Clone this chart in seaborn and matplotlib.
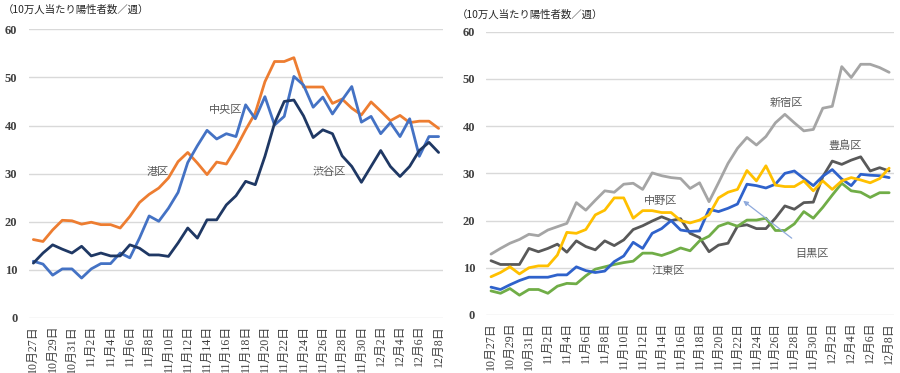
import pandas as pd
import seaborn as sns
import matplotlib.pyplot as plt

# 10/27 - 12/8, daily
dates = pd.date_range('2020-10-27', '2020-12-08')
dateLabels = [f'{d.month}月{d.day}日' for d in dates]

# left panel
minato = [16.3, 15.9, 18.3, 20.3, 20.2, 19.5, 19.9, 19.4, 19.4, 18.7,
          21.1, 24.0, 25.7, 27.0, 29.1, 32.5, 34.4, 32.2, 29.8, 32.4,
          32.0, 35.3, 39.1, 42.6, 49.1, 53.3, 53.3, 54.1, 48.0, 48.0,
          48.0, 44.6, 45.5, 43.6, 42.2, 44.9, 43.0, 41.0, 42.1, 40.6,
          40.9, 40.9, 39.4]
chuo = [11.8, 11.2, 8.9, 10.2, 10.2, 8.3, 10.2, 11.3, 11.3, 13.5,
        12.5, 16.6, 21.2, 20.1, 22.8, 26.1, 32.3, 35.8, 39.0, 37.2,
        38.3, 37.7, 44.3, 41.4, 46.0, 40.1, 41.9, 50.2, 48.4, 43.8,
        45.9, 42.4, 45.3, 48.1, 40.7, 41.9, 38.3, 40.6, 37.7, 41.4,
        33.6, 37.7, 37.7]
shibuya = [11.4, 13.5, 15.2, 14.3, 13.5, 14.9, 12.9, 13.5, 12.9, 12.9,
           15.2, 14.5, 13.1, 13.1, 12.8, 15.6, 18.7, 16.6, 20.4, 20.4,
           23.5, 25.4, 28.4, 27.7, 33.6, 40.5, 45.0, 45.3, 42.0, 37.5,
           39.1, 38.3, 33.7, 31.5, 28.2, 31.5, 34.8, 31.5, 29.4, 31.5,
           34.8, 36.5, 34.4]

# right panel
shinjuku = [12.9, 14.1, 15.2, 16.0, 17.1, 16.8, 18.0, 18.7, 19.4, 23.8,
            22.2, 24.3, 26.3, 26.0, 27.7, 27.9, 26.6, 30.1, 29.5, 29.1,
            28.9, 26.8, 28.0, 24.0, 28.0, 32.1, 35.3, 37.6, 36.0, 37.8,
            40.7, 42.5, 40.7, 39.0, 39.3, 43.8, 44.2, 52.6, 50.3, 53.1,
            53.1, 52.4, 51.4]
toshima = [11.5, 10.7, 10.7, 10.7, 14.1, 13.4, 14.1, 15.0, 13.3, 15.7,
           14.5, 13.8, 15.7, 14.7, 15.9, 18.1, 18.9, 19.9, 20.8, 20.0,
           20.4, 17.3, 16.4, 13.4, 14.8, 15.2, 18.8, 19.1, 18.3, 18.3,
           20.5, 23.1, 22.4, 23.8, 23.9, 29.3, 32.6, 31.9, 32.8, 33.5,
           30.5, 31.2, 30.5]
nakano = [8.1, 9.0, 10.2, 8.7, 10.0, 10.4, 10.4, 12.7, 17.5, 17.3,
          18.1, 21.2, 22.2, 24.8, 24.8, 20.5, 22.1, 22.1, 21.7, 21.7,
          20.0, 19.5, 20.1, 21.2, 24.8, 26.0, 26.6, 30.6, 28.4, 31.6,
          27.5, 27.2, 27.2, 28.4, 26.3, 28.4, 26.6, 28.4, 29.1, 28.6,
          28.0, 28.9, 31.1]
meguro = [5.9, 5.4, 6.4, 7.3, 8.0, 8.0, 8.0, 8.5, 8.5, 10.2,
          9.4, 9.0, 9.3, 11.3, 12.5, 15.4, 14.1, 17.3, 18.3, 20.0,
          18.0, 17.7, 17.8, 22.4, 21.9, 22.6, 23.5, 27.7, 27.4, 26.9,
          27.7, 30.0, 30.5, 28.9, 27.4, 29.4, 30.8, 28.8, 27.4, 29.8,
          29.6, 29.5, 29.1]
koto = [5.1, 4.6, 5.6, 4.2, 5.4, 5.4, 4.6, 6.1, 6.7, 6.6,
        8.3, 9.7, 10.2, 10.7, 11.1, 11.4, 13.1, 13.1, 12.6, 13.3,
        14.2, 13.6, 15.7, 16.7, 18.8, 19.5, 18.8, 20.1, 20.1, 20.5,
        17.9, 17.9, 19.3, 21.9, 20.5, 22.8, 25.4, 27.9, 26.3, 26.0,
        24.9, 25.9, 25.9]

leftSeries = {'港区': minato, '中央区': chuo, '渋谷区': shibuya}
rightSeries = {'新宿区': shinjuku, '豊島区': toshima, '江東区': koto,
               '目黒区': meguro, '中野区': nakano}
colors = {'港区': '#ED7D31', '中央区': '#4472C4', '渋谷区': '#1F3864',
          '新宿区': '#A5A5A5', '豊島区': '#595959', '中野区': '#FFC000',
          '目黒区': '#2F62CB', '江東区': '#70AD47'}

sns.set_style('white')
plt.rcParams['font.family'] = ['Liberation Serif', 'Noto Sans CJK JP']

fig = plt.figure(figsize=(9, 3.73), dpi=100)
axL = fig.add_axes([0.0317, 0.1475, 0.461, 0.774])
axR = fig.add_axes([0.5403, 0.1555, 0.4529, 0.7595])


def drawPanel(ax, series):
    df = pd.DataFrame(series)
    df['idx'] = range(len(dateLabels))
    dfMelted = df.melt(id_vars='idx', var_name='区', value_name='値')
    sns.lineplot(data=dfMelted, x='idx', y='値', hue='区', palette=colors,
                 hue_order=list(series.keys()), linewidth=2.0, ax=ax,
                 legend=False)
    ax.set_xlim(-0.5, len(dateLabels) - 0.5)
    ax.set_ylim(0, 60)
    ax.set_yticks(range(0, 61, 10))
    ax.set_yticklabels([str(v) for v in range(0, 61, 10)],
                       fontsize=9, fontweight='bold', color='#404040')
    ax.set_xticks(range(0, len(dateLabels), 2))
    ax.set_xticklabels(dateLabels[::2], rotation=90, fontsize=8.6,
                       color='#404040')
    ax.tick_params(axis='x', length=0, pad=5)
    ax.tick_params(axis='y', length=0, pad=8)
    ax.grid(axis='y', color='#D9D9D9', linewidth=1.0)
    ax.set_axisbelow(True)
    for s in ax.spines.values():
        s.set_visible(False)
    ax.set_xlabel('')
    ax.set_ylabel('')


drawPanel(axL, leftSeries)
drawPanel(axR, rightSeries)

labelKw = dict(fontsize=8, color='#595959', ha='center', va='center',
               family=['Noto Sans CJK JP'])
axL.text(19.9, 43.2, '中央区', **labelKw)
axL.text(12.9, 30.4, '港区', **labelKw)
axL.text(30.7, 30.4, '渋谷区', **labelKw)

axR.text(31.2, 44.9, '新宿区', **labelKw)
axR.text(37.3, 35.8, '豊島区', **labelKw)
axR.text(17.9, 24.2, '中野区', **labelKw)
axR.text(18.7, 9.3, '江東区', **labelKw)
axR.annotate('目黒区', xy=(26.6, 24.2), xytext=(33.9, 12.9),
             arrowprops=dict(arrowstyle='-|>', color='#8FAADC', lw=0.9,
                             shrinkA=9, shrinkB=0, mutation_scale=7),
             **labelKw)

fig.text(0.003, 0.973, '（10万人当たり陽性者数／週）', fontsize=7.5,
         color='#262626', va='center', family=['Noto Sans CJK JP'])
fig.text(0.508, 0.960, '（10万人当たり陽性者数／週）', fontsize=7.5,
         color='#262626', va='center', family=['Noto Sans CJK JP'])

plt.savefig('out.png', dpi=100)
